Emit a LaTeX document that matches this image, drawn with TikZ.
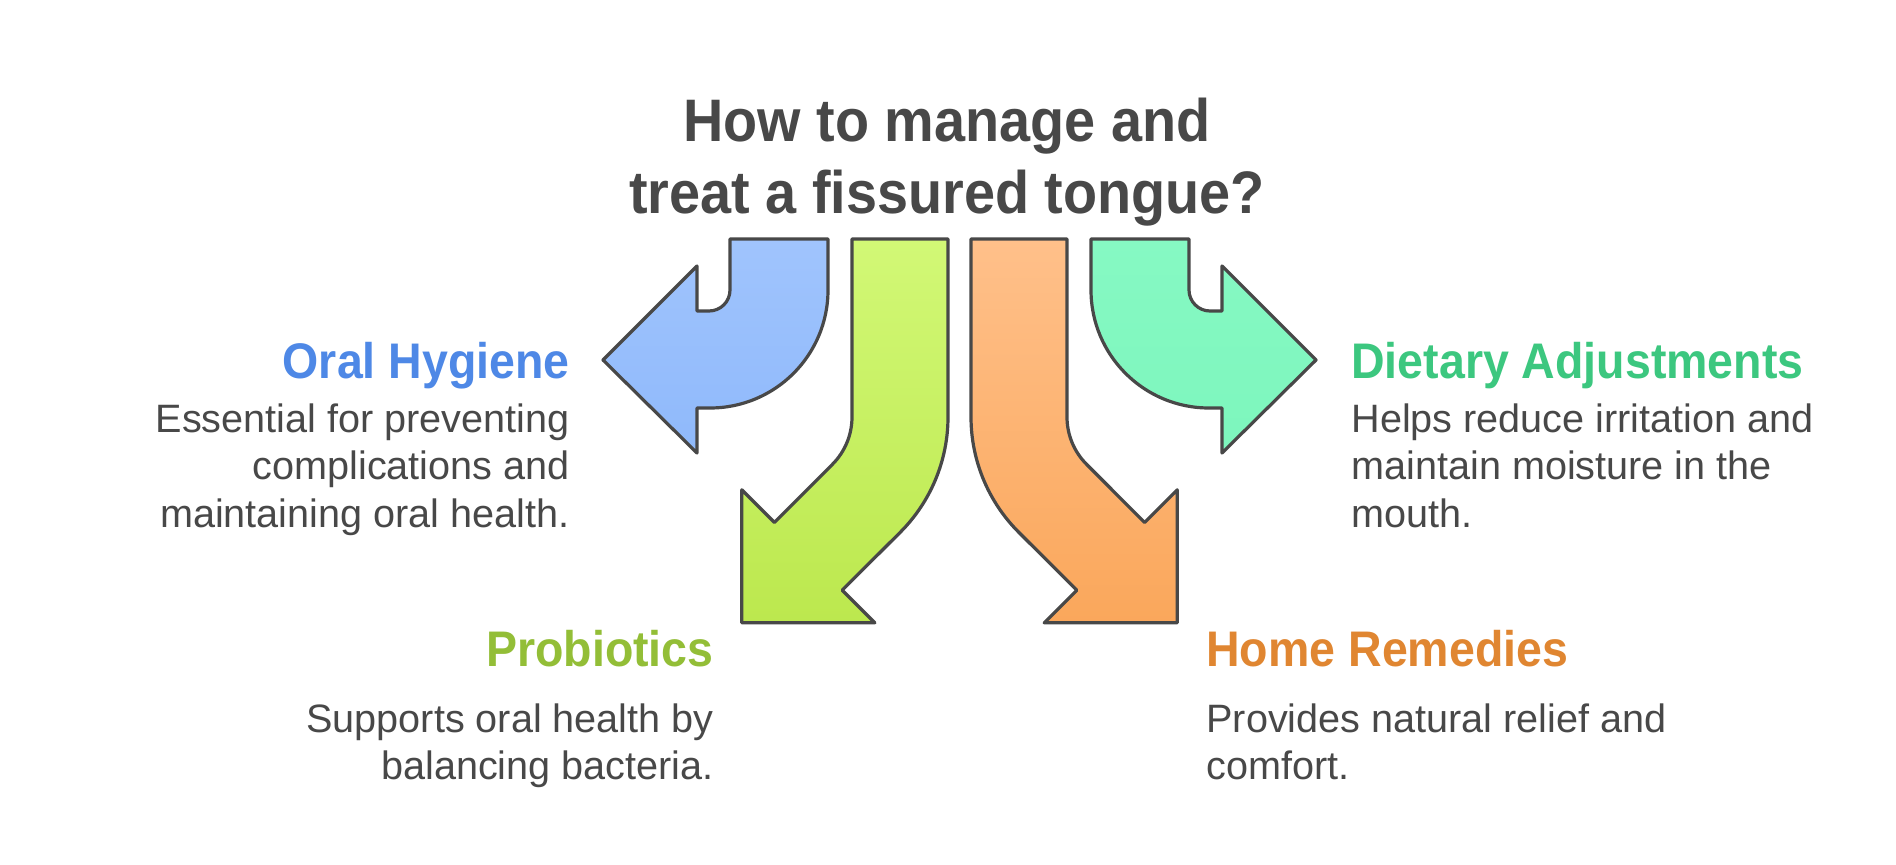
\documentclass[tikz,border=0pt]{standalone}
\usepackage{fontspec}
\setmainfont{Liberation Sans}
\newfontfamily\hfont[FakeStretch=0.93]{Liberation Sans}
\definecolor{ink}{HTML}{484848}
\definecolor{cblue}{HTML}{4E88E6}
\definecolor{cteal}{HTML}{3CC77F}
\definecolor{cgreen}{HTML}{93BE37}
\definecolor{corange}{HTML}{E08631}
\definecolor{bluetop}{HTML}{A0C4FD}
\definecolor{bluebot}{HTML}{8FB9FB}
\definecolor{tealtop}{HTML}{86F9C3}
\definecolor{tealbot}{HTML}{7DF6BD}
\definecolor{greentop}{HTML}{D2F876}
\definecolor{greenbot}{HTML}{BCE84E}
\definecolor{orangetop}{HTML}{FFC08A}
\definecolor{orangebot}{HTML}{FAA75B}
\tikzset{
  arrowshape/.style={draw=ink, line width=1.6pt, line join=round},
  titletext/.style={inner sep=0pt, anchor=base, text=ink, font=\hfont\bfseries\fontsize{30}{36}\selectfont},
  headR/.style={inner sep=0pt, anchor=base east, font=\hfont\bfseries\fontsize{25}{30}\selectfont},
  headL/.style={inner sep=0pt, anchor=base west, font=\hfont\bfseries\fontsize{25}{30}\selectfont},
  bodyR/.style={inner sep=0pt, anchor=base east, text=ink, font=\fontsize{19.8}{24}\selectfont},
  bodyL/.style={inner sep=0pt, anchor=base west, text=ink, font=\fontsize{19.8}{24}\selectfont},
}
\begin{document}
\begin{tikzpicture}[x=0.5pt,y=0.5pt]
\useasboundingbox (0,0) rectangle (1896,864);
\fill[white] (0,0) rectangle (1896,864);

% title
\node[titletext] (t1) at (947,722) {How to manage and};
\node[titletext] (t2) at (947,650) {treat a fissured tongue?};

% blue arrow (Oral Hygiene)
\path[arrowshape, top color=bluetop, bottom color=bluebot]
  (730,625) -- (730,574) arc[start angle=0, end angle=-90, radius=21]
  -- (697,553) -- (697,598) -- (603,504) -- (697,411) -- (697,456) -- (710,456)
  arc[start angle=-90, end angle=0, radius=118] -- (828,625) -- cycle;

% teal arrow (Dietary Adjustments)
\path[arrowshape, top color=tealtop, bottom color=tealbot]
  (1189,625) -- (1189,574) arc[start angle=180, end angle=270, radius=21]
  -- (1222,553) -- (1222,598) -- (1316,504) -- (1222,411) -- (1222,456) -- (1209,456)
  arc[start angle=270, end angle=180, radius=118] -- (1091,625) -- cycle;

% green arrow (Probiotics)
\path[arrowshape, top color=greentop, bottom color=greenbot]
  (852,625) -- (852,447) arc[start angle=0, end angle=-45, radius=67]
  -- (774.4,341.6) -- (741.8,374.2) -- (741.8,241.2) -- (874.8,241.2) -- (842.2,273.8)
  -- (900.26,331.74) arc[start angle=-45, end angle=0, radius=163]
  -- (948,625) -- cycle;

% orange arrow (Home Remedies)
\path[arrowshape, top color=orangetop, bottom color=orangebot]
  (1067,625) -- (1067,447) arc[start angle=180, end angle=225, radius=67]
  -- (1144.6,341.6) -- (1177.2,374.2) -- (1177.2,241.2) -- (1044.2,241.2) -- (1076.8,273.8)
  -- (1018.74,331.74) arc[start angle=225, end angle=180, radius=163]
  -- (971,625) -- cycle;

% Oral Hygiene
\node[headR, text=cblue] (oh) at (570,486) {Oral Hygiene};
\node[bodyR] (oh1) at (570,432) {Essential for preventing};
\node[bodyR] (oh2) at (570,385) {complications and};
\node[bodyR] (oh3) at (570,337) {maintaining oral health.};

% Dietary Adjustments
\node[headL, text=cteal] (da) at (1351,486) {Dietary Adjustments};
\node[bodyL] (da1) at (1351,432) {Helps reduce irritation and};
\node[bodyL] (da2) at (1351,385) {maintain moisture in the};
\node[bodyL] (da3) at (1351,337) {mouth.};

% Probiotics
\node[headR, text=cgreen] (pb) at (714,198) {Probiotics};
\node[bodyR] (pb1) at (714,132) {Supports oral health by};
\node[bodyR] (pb2) at (714,85) {balancing bacteria.};

% Home Remedies
\node[headL, text=corange] (hr) at (1206,198) {Home Remedies};
\node[bodyL] (hr1) at (1206,132) {Provides natural relief and};
\node[bodyL] (hr2) at (1206,85) {comfort.};
\end{tikzpicture}
\end{document}
